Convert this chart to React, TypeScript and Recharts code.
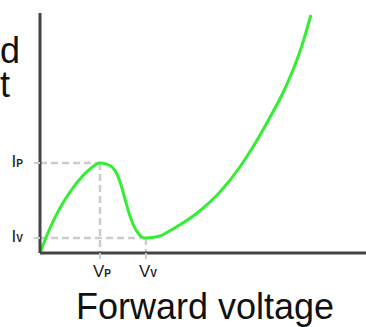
import React from 'react';
import { LineChart, Line, XAxis, YAxis, ReferenceLine } from 'recharts';

// forward voltage (V) and forward current (mA)
const voltage = [0, 0.0153, 0.0307, 0.0613, 0.092, 0.1227, 0.1534, 0.184, 0.2025, 0.2209, 0.2362, 0.2485, 0.2607, 0.273, 0.2853, 0.3006, 0.3129, 0.325, 0.368, 0.408, 0.482, 0.552, 0.613, 0.666, 0.706, 0.745, 0.776, 0.804, 0.831];
const current = [0, 0.542, 1.042, 1.875, 2.542, 3.083, 3.5, 3.75, 3.708, 3.583, 3.292, 2.833, 2.25, 1.667, 1.208, 0.833, 0.667, 0.625, 0.708, 1.0, 1.667, 2.542, 3.583, 4.708, 5.667, 6.667, 7.625, 8.667, 9.917];

const peakV = 0.184;
const valleyV = 0.325;
const peakI = 3.75;
const valleyI = 0.625;

const xTicks = [peakV, valleyV];
const yTicks = [valleyI, peakI];
const xTickNames: Record<number, string> = { [peakV]: 'P', [valleyV]: 'V' };
const yTickNames: Record<number, string> = { [peakI]: 'P', [valleyI]: 'V' };

const data = voltage.map((v, i) => ({ v, i: current[i] }));

const FONT = '"Liberation Sans", Arial, sans-serif';

const XTick = (props: any) => {
    const { x, y, payload } = props;
    return (
        <text x={x + 2} y={y + 16} textAnchor="middle" fontFamily={FONT} fill="#222">
            <tspan fontSize={17}>V</tspan>
            <tspan fontSize={10} fontWeight="bold">{xTickNames[payload.value]}</tspan>
        </text>
    );
};

const YTick = (props: any) => {
    const { y, payload } = props;
    return (
        <text x={23} y={y + 4} textAnchor="end" fontFamily={FONT} fill="#222">
            <tspan fontSize={17}>I</tspan>
            <tspan fontSize={10} fontWeight="bold">{yTickNames[payload.value]}</tspan>
        </text>
    );
};

// the y title is centred far to the left, so only its last letters show
const YLabel = (props: any) => {
    const vb = props.viewBox || { x: 0, y: 13 };
    return (
        <text textAnchor="middle" fontFamily={FONT} fontSize={36} fill="#111">
            <tspan x={vb.x - 46} y={vb.y + 50}>Forward</tspan>
            <tspan x={vb.x - 46} y={vb.y + 84}>current</tspan>
        </text>
    );
};

const XLabel = (props: any) => {
    const vb = props.viewBox || { x: 40, y: 253, width: 326 };
    return (
        <text x={vb.x + vb.width / 2 + 2} y={vb.y + 66} textAnchor="middle" fontFamily={FONT} fontSize={36} fill="#111">
            Forward voltage
        </text>
    );
};

const guide = { stroke: '#cccccc', strokeWidth: 2.5, strokeDasharray: '7 4' };

const App = () => {
    return (
        <div style={{ position: 'absolute', left: 0, top: 0, width: 366, height: 327, background: '#fff' }}>
            <LineChart width={366} height={327} data={data} margin={{ top: 13, right: 0, bottom: 0, left: 0 }}>
                <XAxis
                    dataKey="v"
                    type="number"
                    domain={[0, 1]}
                    ticks={xTicks}
                    tick={<XTick />}
                    tickSize={6}
                    tickLine={{ stroke: '#cccccc', strokeWidth: 2 }}
                    axisLine={{ stroke: '#444', strokeWidth: 3 }}
                    height={74}
                    label={<XLabel />}
                />
                <YAxis
                    type="number"
                    domain={[0, 10]}
                    ticks={yTicks}
                    tick={<YTick />}
                    tickSize={6}
                    tickLine={{ stroke: '#cccccc', strokeWidth: 2 }}
                    axisLine={{ stroke: '#444', strokeWidth: 3 }}
                    width={40}
                    allowDataOverflow
                    label={<YLabel />}
                />
                <ReferenceLine segment={[{ x: 0, y: peakI }, { x: peakV, y: peakI }]} {...guide} />
                <ReferenceLine segment={[{ x: peakV, y: peakI }, { x: peakV, y: 0 }]} {...guide} />
                <ReferenceLine segment={[{ x: 0, y: valleyI }, { x: valleyV, y: valleyI }]} {...guide} />
                <ReferenceLine segment={[{ x: valleyV, y: valleyI }, { x: valleyV, y: 0 }]} {...guide} />
                <Line
                    type="monotone"
                    dataKey="i"
                    stroke="#33ee33"
                    strokeWidth={3}
                    dot={false}
                    isAnimationActive={false}
                />
            </LineChart>
        </div>
    );
};

export default App;
